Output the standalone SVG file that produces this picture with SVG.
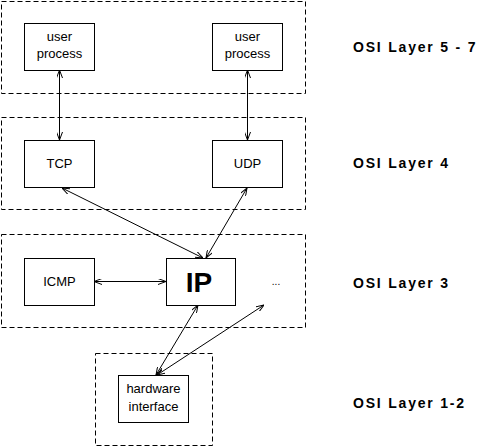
<svg xmlns="http://www.w3.org/2000/svg" width="481" height="447" viewBox="0 0 481 447">
<defs>
<style>
.layer{fill:none;stroke:#000;stroke-width:1;stroke-dasharray:5 3}
.box{fill:#fff;stroke:#000;stroke-width:1}
.t{font-family:"Liberation Sans",Arial,sans-serif;font-size:13px;text-anchor:middle;fill:#000}
.ip{font-family:"Liberation Sans",Arial,sans-serif;font-size:28px;font-weight:bold;text-anchor:middle;fill:#000}
.osi{font-family:"Liberation Sans",Arial,sans-serif;font-size:14px;font-weight:bold;letter-spacing:1.8px;fill:#000}
.c{fill:none;stroke:#000;stroke-width:1;marker-start:url(#ah);marker-end:url(#ah)}
</style>
<marker id="ah" markerWidth="8" markerHeight="6" refX="8" refY="3" orient="auto-start-reverse" markerUnits="userSpaceOnUse">
<path d="M0,0 L8,3 L0,6" fill="none" stroke="#000" stroke-width="1"/>
</marker>
</defs>
<g id="layer57"><rect class="layer" x="1.5" y="1.5" width="304" height="92"/></g>
<g id="layer4"><rect class="layer" x="1.5" y="117.5" width="304" height="92"/></g>
<g id="layer3"><rect class="layer" x="1.5" y="234.5" width="304" height="93"/></g>
<g id="layer12"><rect class="layer" x="95.5" y="353.5" width="117" height="92"/></g>
<g id="connectors">
<line class="c" x1="59.5" y1="70" x2="59.5" y2="140"/>
<line class="c" x1="247.5" y1="70" x2="247.5" y2="140"/>
<line class="c" x1="62" y1="188" x2="203" y2="258"/>
<line class="c" x1="247" y1="188" x2="206" y2="258"/>
<line class="c" x1="94" y1="281.5" x2="166" y2="281.5"/>
<line class="c" x1="198" y1="305" x2="156" y2="375"/>
<line class="c" x1="157" y1="375" x2="264" y2="305"/>
</g>
<g id="user1"><rect class="box" x="24.5" y="23.5" width="70" height="47"/><text class="t" x="59.5" y="41">user</text><text class="t" x="59.5" y="58">process</text></g>
<g id="user2"><rect class="box" x="212.5" y="23.5" width="70" height="47"/><text class="t" x="247.5" y="41">user</text><text class="t" x="247.5" y="58">process</text></g>
<g id="tcp"><rect class="box" x="24.5" y="140.5" width="70" height="47"/><text class="t" x="59.5" y="168">TCP</text></g>
<g id="udp"><rect class="box" x="212.5" y="140.5" width="70" height="47"/><text class="t" x="247.5" y="168">UDP</text></g>
<g id="icmp"><rect class="box" x="24.5" y="258.5" width="70" height="47"/><text class="t" x="59.5" y="286">ICMP</text></g>
<g id="ip"><rect class="box" x="166.5" y="258.5" width="69" height="47"/><text class="ip" x="199" y="292">IP</text></g>
<g id="dots"><text class="t" x="276" y="285" style="font-size:10px">...</text></g>
<g id="hw"><rect class="box" x="118.5" y="375.5" width="70" height="47"/><text class="t" x="153.5" y="393">hardware</text><text class="t" x="153.5" y="411">interface</text></g>
<g id="labels">
<text class="osi" x="353" y="52">OSI Layer 5 - 7</text>
<text class="osi" x="353" y="168">OSI Layer 4</text>
<text class="osi" x="353" y="288">OSI Layer 3</text>
<text class="osi" x="353" y="408">OSI Layer 1-2</text>
</g>
</svg>
